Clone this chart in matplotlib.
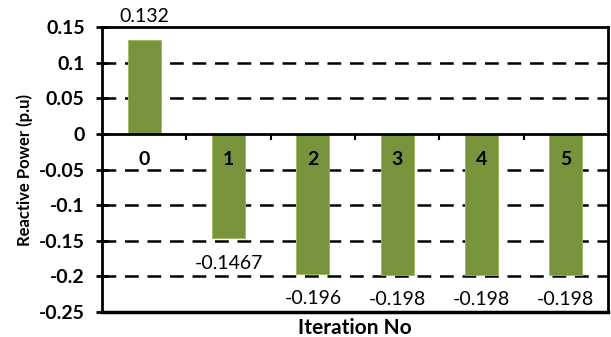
import numpy as np
import matplotlib.pyplot as plt

iterations = ['0', '1', '2', '3', '4', '5']
reactive_power = [0.132, -0.1467, -0.196, -0.198, -0.198, -0.198]
value_labels = ['0.132', '-0.1467', '-0.196', '-0.198', '-0.198', '-0.198']
yticks = [-0.25, -0.2, -0.15, -0.1, -0.05, 0, 0.05, 0.1, 0.15]
ytick_labels = ['-0.25', '-0.2', '-0.15', '-0.1', '-0.05', '0', '0.05', '0.1', '0.15']

plt.rcParams['font.family'] = ['Lato', 'DejaVu Sans']

fig = plt.figure(figsize=(6.11, 3.37), dpi=100)
ax = fig.add_axes([0.167, 0.074, 0.828, 0.846])

x = np.arange(len(iterations))
ax.bar(x, reactive_power, width=0.39, color='#77933C', edgecolor='#9BBB59', linewidth=0.6, zorder=3)

ax.set_xlim(-0.5, len(iterations) - 0.5)
ax.set_ylim(-0.25, 0.15)

# dashed grid at every tick except zero and the frame edges
for yv in yticks:
    if yv not in (0, 0.15, -0.25):
        ax.axhline(yv, color='black', linestyle=(0, (5.5, 3.5)), linewidth=1.8, zorder=1)

ax.set_yticks(yticks)
ax.set_yticklabels(ytick_labels, fontsize=14, fontweight='bold')
ax.tick_params(axis='y', direction='inout', length=9, width=2, pad=8)

# category axis sits on y = 0, ticks between categories
ax.spines['bottom'].set_position(('data', 0))
ax.set_xticks(x[:-1] + 0.5)
ax.set_xticklabels([])
ax.tick_params(axis='x', direction='out', length=4, width=1.5)
for side in ['bottom', 'left', 'top', 'right']:
    ax.spines[side].set_linewidth(2)
ax.spines['bottom'].set_zorder(4)
ax.plot([0, 1], [0, 0], transform=ax.transAxes, color='black', linewidth=2.5, clip_on=False)

for xi, name in zip(x, iterations):
    ax.text(xi, -0.036, name, ha='center', va='center', fontsize=14, fontweight='bold')

for xi, v, lab in zip(x, reactive_power, value_labels):
    if v >= 0:
        ax.text(xi, v + 0.021, lab, ha='center', va='bottom', fontsize=14)
    else:
        ax.text(xi, v - 0.035, lab, ha='center', va='center', fontsize=14)

ax.set_xlabel('Iteration No', fontsize=15, fontweight='bold')
ax.xaxis.set_label_coords(0.5, -0.02)
ax.set_ylabel('Reactive Power (p.u)', fontsize=12, fontweight='bold')
ax.yaxis.set_label_coords(-0.136, 0.5)

fig.savefig('out.png', dpi=100)
